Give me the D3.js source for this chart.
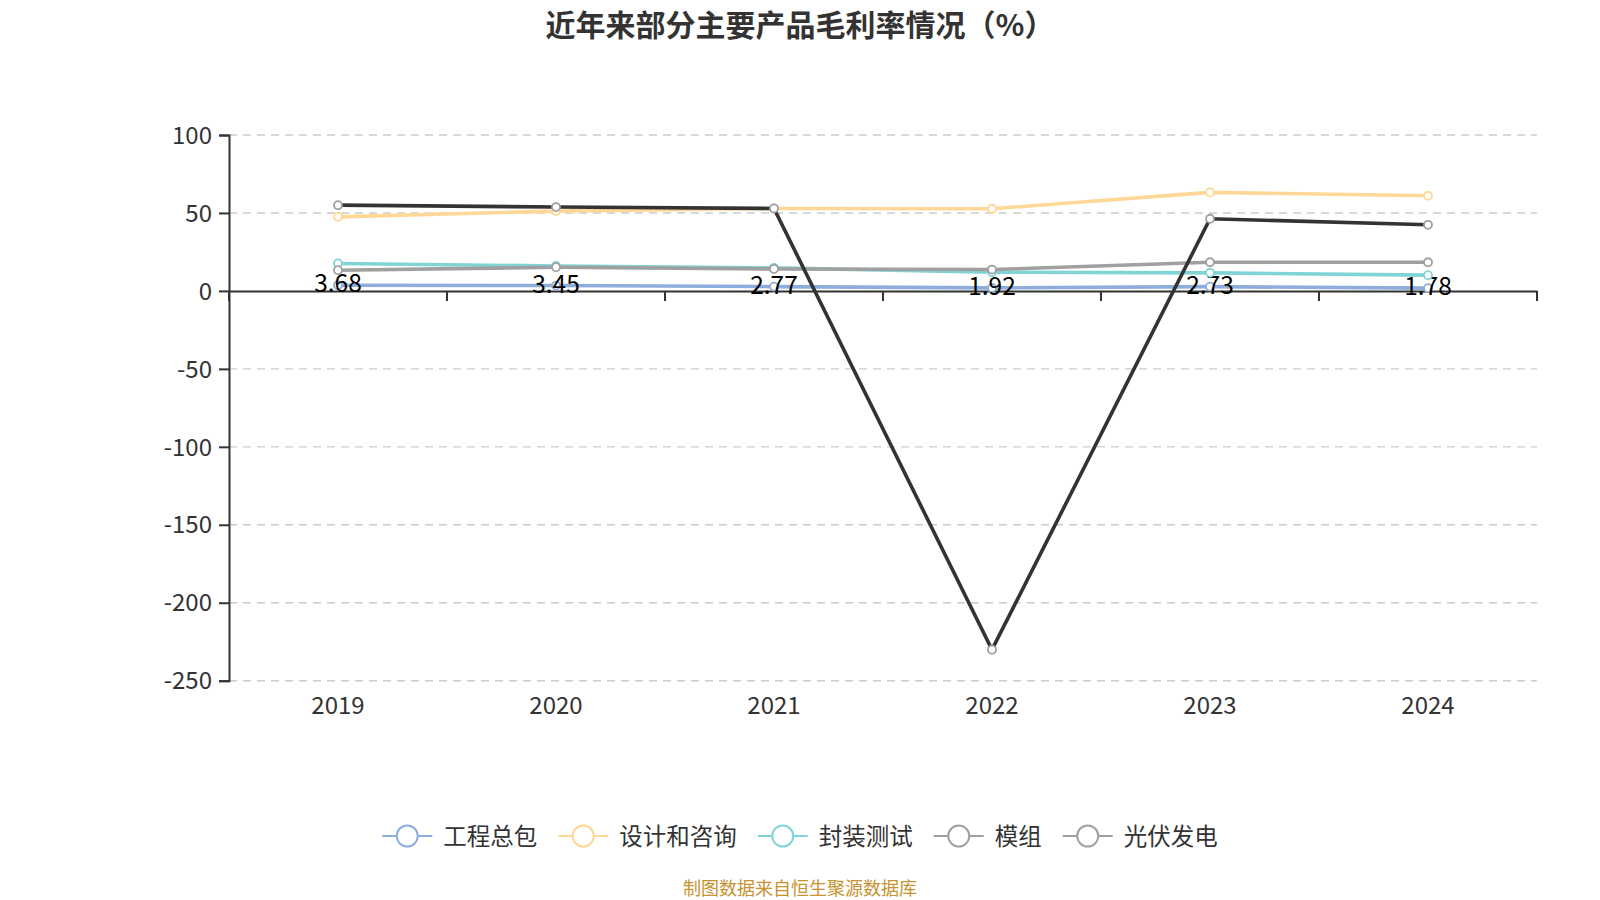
<!DOCTYPE html>
<html><head><meta charset="utf-8">
<script src="https://cdn.jsdelivr.net/npm/d3@7/dist/d3.min.js"></script>
<style>
html,body{margin:0;padding:0;background:#fff;}
svg{display:block;font-family:"Noto Sans CJK SC","Noto Sans",sans-serif;}
</style></head>
<body>
<svg id="chart" width="1600" height="900"></svg>
<script>
const years = ['2019','2020','2021','2022','2023','2024'];
const seriesNames = ['工程总包','设计和咨询','封装测试','模组','光伏发电'];
const gcZB = [3.68,3.45,2.77,1.92,2.73,1.78];
const sjZX = [47.5,51.2,52.9,52.7,63.2,61.0];
const fzCS = [17.6,16.0,14.8,12.0,11.6,10.1];
const moZu = [13.3,15.2,14.1,13.7,18.4,18.4];
const gfFD = [55.0,53.8,52.9,-230.1,46.3,42.4];
const yTicks = [100,50,0,-50,-100,-150,-200,-250];

const lineColors = ['#8eaddc','#ffd796','#80d4d6','#a0a0a0','#333333'];
const markColors = ['#8eaddc','#ffd796','#80d4d6','#a0a0a0','#a0a0a0'];
const allData = [gcZB,sjZX,fzCS,moZu,gfFD];

const svg = d3.select('#chart');
const pLeft = 229, pRight = 1537, pTop = 135, pBottom = 680.7;

const x = d3.scaleBand().domain(years).range([pLeft,pRight]);
const y = d3.scaleLinear().domain([-250,100]).range([pBottom,pTop]);
const cx = d => x(d) + x.bandwidth()/2;

// title
svg.append('text').attr('x',800).attr('y',36).attr('text-anchor','middle')
  .attr('font-size',30).attr('font-weight','bold').attr('fill','#333')
  .text('近年来部分主要产品毛利率情况（%）');

// grid
svg.append('g').selectAll('line').data(yTicks.filter(t=>t!==0)).join('line')
  .attr('x1',pLeft).attr('x2',pRight).attr('y1',d=>y(d)).attr('y2',d=>y(d))
  .attr('stroke','#cccccc').attr('stroke-width',1.4).attr('stroke-dasharray','8,6');

// y axis
const yAxis = d3.axisLeft(y).tickValues(yTicks).tickSize(10).tickPadding(7).tickFormat(d=>String(d));
const gy = svg.append('g').attr('transform',`translate(${pLeft},0)`).call(yAxis);
gy.select('.domain').attr('stroke','#333').attr('stroke-width',2);
gy.selectAll('.tick line').attr('stroke','#333').attr('stroke-width',2);
gy.selectAll('.tick text').attr('font-size',24).attr('fill','#333')
  .attr('font-family','"Noto Sans CJK SC","Noto Sans",sans-serif').attr('dy','0.34em');

// x axis at zero
const xAxis = d3.axisBottom(x).tickSize(0).tickFormat('');
const gx = svg.append('g').attr('transform',`translate(0,${y(0)})`).call(xAxis);
gx.select('.domain').attr('stroke','#333').attr('stroke-width',2);
// boundary ticks
const bounds = years.map(d=>x(d)).concat([pRight]);
svg.append('g').selectAll('line').data(bounds).join('line')
  .attr('x1',d=>d).attr('x2',d=>d).attr('y1',y(0)).attr('y2',y(0)+10)
  .attr('stroke','#333').attr('stroke-width',2);
// category labels at bottom
svg.append('g').selectAll('text').data(years).join('text')
  .attr('x',d=>cx(d)).attr('y',714).attr('text-anchor','middle')
  .attr('font-size',24).attr('fill','#333').text(d=>d);

const line = d3.line().x((d,i)=>cx(years[i])).y(d=>y(d));

function drawSeries(k){
  const g = svg.append('g');
  g.append('path').datum(allData[k]).attr('d',line).attr('fill','none')
    .attr('stroke',lineColors[k]).attr('stroke-width',3.6).attr('stroke-linejoin','round');
  g.selectAll('circle').data(allData[k]).join('circle')
    .attr('cx',(d,i)=>cx(years[i])).attr('cy',d=>y(d)).attr('r',4)
    .attr('fill','#fff').attr('stroke',markColors[k]).attr('stroke-width',1.8);
}
drawSeries(0);
// labels for 工程总包
svg.append('g').selectAll('text').data(gcZB).join('text')
  .attr('x',(d,i)=>cx(years[i])).attr('y',d=>y(d)+7).attr('text-anchor','middle')
  .attr('font-size',24.5).attr('fill','#000').text(d=>d.toFixed(2));
for(let k=1;k<5;k++) drawSeries(k);

// legend
const lg = svg.append('g');
let xx = 0;
seriesNames.forEach((n,k)=>{
  const it = lg.append('g');
  it.append('line').attr('x1',0).attr('x2',50).attr('y1',0).attr('y2',0)
    .attr('stroke',markColors[k]).attr('stroke-width',2.2);
  it.append('circle').attr('cx',25).attr('cy',0).attr('r',10.5)
    .attr('fill','#fff').attr('stroke',markColors[k]).attr('stroke-width',2);
  const t = it.append('text').attr('x',61).attr('y',8.5).attr('font-size',23.5)
    .attr('fill','#333').text(n);
  const w = 61 + t.node().getComputedTextLength();
  it.attr('transform',`translate(${xx},836)`);
  xx += w + 21;
});
const totalW = xx - 21;
lg.attr('transform',`translate(${800 - totalW/2},0)`);

// footer
svg.append('text').attr('x',800).attr('y',895).attr('text-anchor','middle')
  .attr('font-size',18).attr('fill','#c8922e').text('制图数据来自恒生聚源数据库');
</script>
</body></html>
